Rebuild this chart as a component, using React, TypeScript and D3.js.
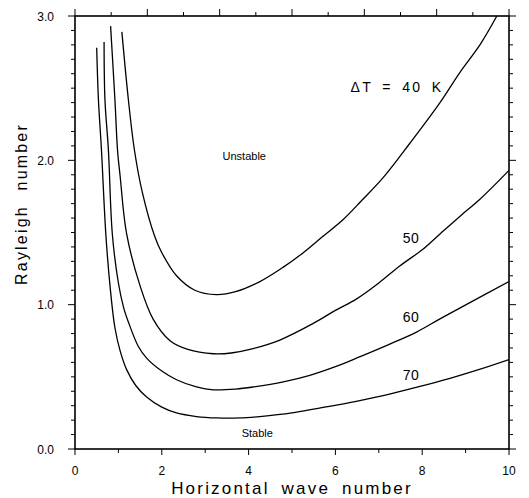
import React from "react";
import * as d3 from "d3";

const wave40 = [1.08, 1.23, 1.37, 1.55, 1.84, 2.0, 2.34, 2.76, 3.26, 3.7, 4.26, 4.8, 5.26, 5.7, 6.18, 6.6, 7.1, 7.72, 8.41, 8.87, 9.33, 9.72];
const ray40 = [2.89, 2.42, 2.07, 1.78, 1.47, 1.36, 1.2, 1.1, 1.07, 1.09, 1.16, 1.26, 1.36, 1.47, 1.59, 1.72, 1.88, 2.12, 2.4, 2.61, 2.8, 3.0];

const wave50 = [0.82, 0.92, 0.98, 1.04, 1.19, 1.5, 1.8, 2.19, 2.6, 3.19, 3.6, 4.03, 4.72, 5.49, 6.0, 6.49, 7.0, 7.49, 8.0, 8.41, 8.9, 9.33, 10.0];
const ray50 = [2.93, 2.42, 2.07, 1.89, 1.49, 1.13, 0.9, 0.75, 0.69, 0.66, 0.665, 0.69, 0.755, 0.87, 0.96, 1.04, 1.15, 1.27, 1.38, 1.49, 1.62, 1.73, 1.93];

const wave60 = [0.67, 0.69, 0.77, 0.86, 1.0, 1.12, 1.23, 1.46, 1.65, 2.0, 2.34, 2.8, 3.19, 3.7, 4.11, 4.8, 5.41, 6.0, 6.57, 7.2, 7.87, 8.4, 8.95, 10.0];
const ray60 = [2.82, 2.42, 2.07, 1.49, 1.15, 0.98, 0.88, 0.71, 0.63, 0.54, 0.48, 0.43, 0.41, 0.415, 0.43, 0.465, 0.51, 0.57, 0.64, 0.72, 0.81, 0.9, 0.99, 1.16];

const wave70 = [0.5, 0.54, 0.61, 0.71, 0.81, 0.92, 1.04, 1.19, 1.4, 1.65, 2.0, 2.34, 2.8, 3.26, 3.8, 4.26, 5.0, 5.57, 6.3, 7.1, 7.9, 8.64, 9.3, 10.0];
const ray70 = [2.78, 2.42, 2.07, 1.49, 1.12, 0.84, 0.68, 0.55, 0.44, 0.36, 0.29, 0.25, 0.225, 0.215, 0.215, 0.225, 0.25, 0.28, 0.32, 0.37, 0.43, 0.49, 0.55, 0.62];

const curveLabels = ["\u0394T = 40 K", "50", "60", "70"];
const labelPos = [
  { x: 6.35, y: 2.475 },
  { x: 7.55, y: 1.43 },
  { x: 7.55, y: 0.88 },
  { x: 7.55, y: 0.48 },
];

const xTicksMajor = [0, 2, 4, 6, 8, 10];
const xTicksAll = [0, 1, 2, 3, 4, 5, 6, 7, 8, 9, 10];
const yTicksMajor = [0, 1, 2, 3];
const yTickLabels = ["0.0", "1.0", "2.0", "3.0"];
const topTickCount = 12;

const W = 529;
const H = 498;
const left = 75;
const right = 509;
const top = 16;
const bottom = 449;

export default function App() {
  const x = d3.scaleLinear().domain([0, 10]).range([left, right]);
  const y = d3.scaleLinear().domain([0, 3]).range([bottom, top]);
  const line = d3
    .line<[number, number]>()
    .x((d) => x(d[0]))
    .y((d) => y(d[1]))
    .curve(d3.curveCatmullRom.alpha(0.5));

  const series: [number[], number[]][] = [
    [wave40, ray40],
    [wave50, ray50],
    [wave60, ray60],
    [wave70, ray70],
  ];

  const yMinor = d3.range(0, 31).map((i) => i / 10);
  const topTicks = d3.range(0, topTickCount + 1).map((i) => left + ((right - left) * i) / topTickCount);
  const font = "'Liberation Sans', Arial, sans-serif";

  return (
    <svg width={W} height={H} style={{ position: "absolute", left: 0, top: 0, background: "#fff" }}>
      <rect x={0} y={0} width={W} height={H} fill="#fff" />
      <defs>
        <clipPath id="plot">
          <rect x={left} y={top} width={right - left} height={bottom - top} />
        </clipPath>
      </defs>
      <rect x={left} y={top} width={right - left} height={bottom - top} fill="none" stroke="#000" strokeWidth={1.6} />
      {yMinor.map((v, i) => {
        const major = i % 10 === 0;
        const len = major ? 7 : 4;
        return (
          <g key={"yt" + i}>
            <line x1={left - len} x2={left} y1={y(v)} y2={y(v)} stroke="#000" strokeWidth={1} />
            <line x1={right} x2={right + len} y1={y(v)} y2={y(v)} stroke="#000" strokeWidth={1} />
          </g>
        );
      })}
      {xTicksAll.map((v) => {
        const major = v % 2 === 0;
        return (
          <line key={"xt" + v} x1={x(v)} x2={x(v)} y1={bottom} y2={bottom + (major ? 6 : 4)} stroke="#000" strokeWidth={1} />
        );
      })}
      {topTicks.map((px, i) => (
        <line key={"tt" + i} x1={px} x2={px} y1={top} y2={top - (i % 2 === 0 ? 7 : 4)} stroke="#000" strokeWidth={1} />
      ))}
      {yTicksMajor.map((v, i) => (
        <text key={"yl" + v} x={54} y={y(v) + 4.5} textAnchor="end" fontFamily={font} fontSize={12} fill="#000">
          {yTickLabels[i]}
        </text>
      ))}
      {xTicksMajor.map((v) => (
        <text key={"xl" + v} x={x(v)} y={475} textAnchor="middle" fontFamily={font} fontSize={12} fill="#000">
          {v}
        </text>
      ))}
      <g clipPath="url(#plot)">
        {series.map(([xs, ys], i) => (
          <path
            key={"c" + i}
            d={line(xs.map((v, j) => [v, ys[j]] as [number, number])) || ""}
            fill="none"
            stroke="#000"
            strokeWidth={1.3}
          />
        ))}
      </g>
      {curveLabels.map((t, i) => (
        <text
          key={"cl" + i}
          x={x(labelPos[i].x)}
          y={y(labelPos[i].y)}
          fontFamily={font}
          fontSize={14}
          letterSpacing={i === 0 ? 2.4 : 0.5}
          wordSpacing={i === 0 ? 3 : 0}
          fill="#000"
        >
          {t}
        </text>
      ))}
      <text x={x(3.9)} y={y(2.0)} textAnchor="middle" fontFamily={font} fontSize={11} fill="#000">
        Unstable
      </text>
      <text x={x(4.2)} y={437} textAnchor="middle" fontFamily={font} fontSize={11} fill="#000">
        Stable
      </text>
      <text
        x={292}
        y={494}
        textAnchor="middle"
        fontFamily={font}
        fontSize={17}
        letterSpacing={2.2}
        wordSpacing={5}
        fill="#000"
      >
        Horizontal wave number
      </text>
      <text
        transform={`translate(27, 204) rotate(-90)`}
        textAnchor="middle"
        fontFamily={font}
        fontSize={16}
        letterSpacing={2.2}
        wordSpacing={8}
        fill="#000"
      >
        Rayleigh number
      </text>
    </svg>
  );
}
